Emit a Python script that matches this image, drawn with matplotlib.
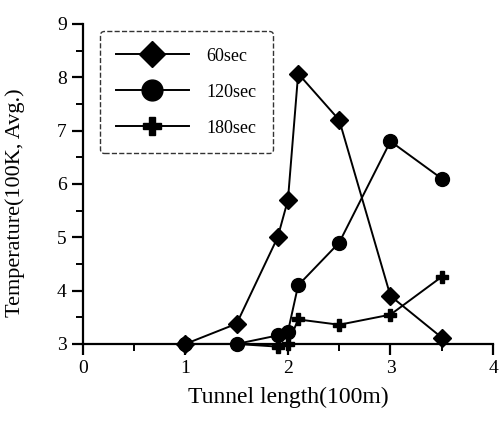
import matplotlib.pyplot as plt
from matplotlib.ticker import MultipleLocator

plt.rcParams["font.family"] = ["Liberation Serif", "DejaVu Serif"]

# tunnel length (100 m)
x_pos = [1.0, 1.5, 1.9, 2.0, 2.1, 2.5, 3.0, 3.5]

# average temperature (100 K)
temp_60 = [3.0, 3.38, 5.0, 5.7, 8.07, 7.2, 3.9, 3.12]
temp_120 = [3.0, 3.0, 3.16, 3.23, 4.1, 4.9, 6.8, 6.1]
temp_180 = [3.0, 3.0, 2.95, 3.0, 3.46, 3.36, 3.55, 4.26]

fig = plt.figure(figsize=(4.99, 4.21), dpi=100)
ax = fig.add_axes([0.166, 0.183, 0.822, 0.760])

ax.plot(x_pos, temp_60, color="black", lw=1.4, marker="D", ms=9,
        label="60sec", clip_on=False, zorder=3)
ax.plot(x_pos, temp_120, color="black", lw=1.4, marker="o", ms=10,
        label="120sec", clip_on=False, zorder=3)
ax.plot(x_pos, temp_180, color="black", lw=1.4, marker="P", ms=9,
        label="180sec", clip_on=False, zorder=3)

ax.set_xlim(0, 4)
ax.set_ylim(3, 9)
ax.xaxis.set_major_locator(MultipleLocator(1))
ax.xaxis.set_minor_locator(MultipleLocator(0.5))
ax.yaxis.set_major_locator(MultipleLocator(1))
ax.yaxis.set_minor_locator(MultipleLocator(0.5))

for side in ("top", "right"):
    ax.spines[side].set_visible(False)
for side in ("left", "bottom"):
    ax.spines[side].set_linewidth(1.6)

ax.tick_params(which="major", direction="out", length=8, width=1.6,
               labelsize=14)
ax.tick_params(which="minor", direction="out", length=5, width=1.4)

ax.set_xlabel("Tunnel length(100m)", fontsize=17, labelpad=7)
ax.set_ylabel("Temperature(100K, Avg.)", fontsize=16)
ax.yaxis.set_label_coords(-0.14, 0.44)

leg = ax.legend(loc="upper left", bbox_to_anchor=(0.02, 1.005),
                fontsize=13, handlelength=4.0, markerscale=1.5,
                labelspacing=1.05, borderpad=0.9, handletextpad=1.0,
                fancybox=True, frameon=True)
leg.get_frame().set_edgecolor("black")
leg.get_frame().set_linewidth(1.0)
leg.get_frame().set_linestyle("--")

fig.savefig("out.png", dpi=100)
